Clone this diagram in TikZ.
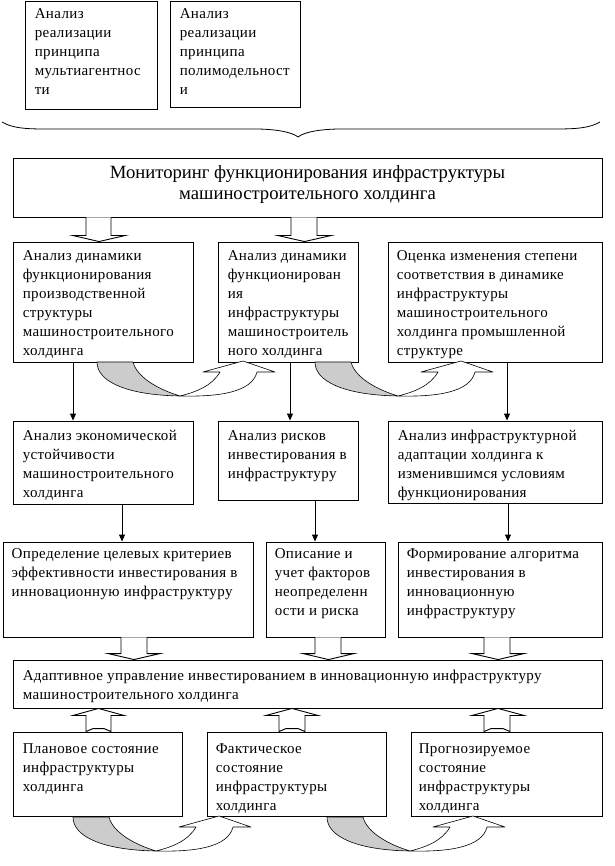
\documentclass[tikz,border=0pt]{standalone}
\usepackage{fontspec}
\setmainfont{Liberation Serif}
\newfontfamily\bodyfont{Liberation Serif}[LetterSpace=2.5]
\usetikzlibrary{arrows.meta,fit,calc}
\newcommand\fst{\rule{0pt}{13pt}}
% block arrow pointing down: shaft left, shaft right, wing left, wing right, from node, to node
\newcommand\blkdown[6]{%
  \draw[blk] let \p1=(#5.south), \p2=(#6.north) in
    (#1pt,\y1) -- (#1pt,\y2+6pt) -- (#3pt,\y2+6pt) -- ({(#3+#4)/2*1pt},\y2)
    -- (#4pt,\y2+6pt) -- (#2pt,\y2+6pt) -- (#2pt,\y1);}
% block arrow pointing up: shaft left, shaft right, wing left, wing right, from node (below), to node (above)
\newcommand\blkup[6]{%
  \draw[blk] let \p1=(#5.north), \p2=(#6.south) in
    (#1pt,\y1) -- (#1pt,\y2-7pt) -- (#3pt,\y2-7pt) -- ({(#3+#4)/2*1pt},\y2)
    -- (#4pt,\y2-7pt) -- (#2pt,\y2-7pt) -- (#2pt,\y1)
    -- (#2pt-7pt,\y1+3pt) -- (#1pt+7pt,\y1+3pt) -- cycle;}
% thin arrow: x, from node, to node
\newcommand\conar[3]{%
  \draw[conn] let \p1=(#2.south), \p2=(#3.north) in (#1pt,\y1) -- (#1pt,\y2);}
% curved twisted arrow, shifted
\newcommand\curvedarrow[2]{%
  \begin{scope}[shift={(#1,#2)}]
    \draw[curv,fill=gray!40] (97,362) .. controls (97,381) and (125,395) .. (180,396)
      .. controls (160,390) and (137,378) .. (133,362) -- cycle;
    \draw[curv,fill=white] (180,396) .. controls (220,397) and (252,392) .. (257,372)
      -- (275,372) -- (243,361) -- (203,372) -- (220,372)
      .. controls (212,386) and (196,392) .. (180,396) -- cycle;
  \end{scope}}
\begin{document}
\begin{tikzpicture}[x=1pt,y=-1pt,
  box/.style={draw,line width=0.9pt,inner sep=0pt},
  txt/.style={anchor=north west,inner sep=0pt,align=left,font=\bodyfont\fontsize{15}{19}\selectfont},
  conn/.style={line width=0.9pt,-{Triangle[width=6pt,length=7pt]}},
  blk/.style={draw,line width=0.9pt,fill=white,line join=miter},
  curv/.style={line width=0.6pt,line join=round}]
\useasboundingbox (0,0) rectangle (614,866);
% boxes
\node[box,fit={(25,1)(157,109)}] (A1) {};
\node[box,fit={(170,1)(300,107)}] (A2) {};
\node[box,fit={(13,158)(602,217)}] (Mon) {};
\node[box,fit={(13,242)(193,362)}] (B1) {};
\node[box,fit={(218,242)(358,362)}] (B2) {};
\node[box,fit={(388,242)(602,362)}] (B3) {};
\node[box,fit={(13,421)(193,504)}] (C1) {};
\node[box,fit={(218,421)(358,500)}] (C2) {};
\node[box,fit={(388,421)(602,503)}] (C3) {};
\node[box,fit={(3,542)(253,637)}] (D1) {};
\node[box,fit={(266,542)(385,637)}] (D2) {};
\node[box,fit={(398,542)(602,637)}] (D3) {};
\node[box,fit={(13,660)(602,708)}] (E) {};
\node[box,fit={(13,732)(182,816)}] (F1) {};
\node[box,fit={(207,732)(386,816)}] (F2) {};
\node[box,fit={(411,732)(602,816)}] (F3) {};
% texts
\node[txt] (A1t) at ($(A1.north west)+(10,4.3)$) {\fst Анализ\\реализации\\принципа\\мультиагентнос\\ти};
\node[txt] (A2t) at ($(A2.north west)+(10,4.3)$) {\fst Анализ\\реализации\\принципа\\полимодельност\\и};
\node[inner sep=0pt,align=center,font=\fontsize{18.67}{21}\selectfont] (Mont) at ($(Mon.center)+(0,-3)$) {Мониторинг функционирования инфраструктуры\\машиностроительного холдинга};
\node[txt] (B1t) at ($(B1.north west)+(10,5.3)$) {\fst Анализ динамики\\функционирования\\производственной\\структуры\\машиностроительного\\холдинга};
\node[txt] (B2t) at ($(B2.north west)+(10,5.3)$) {\fst Анализ динамики\\функционирован\\ия\\инфраструктуры\\машиностроитель\\ного холдинга};
\node[txt] (B3t) at ($(B3.north west)+(9,5.3)$) {\fst Оценка изменения степени\\соответствия в динамике\\инфраструктуры\\машиностроительного\\холдинга промышленной\\структуре};
\node[txt] (C1t) at ($(C1.north west)+(10,6.3)$) {\fst Анализ экономической\\устойчивости\\машиностроительного\\холдинга};
\node[txt] (C2t) at ($(C2.north west)+(10,6.3)$) {\fst Анализ рисков\\инвестирования в\\инфраструктуру};
\node[txt] (C3t) at ($(C3.north west)+(10,6.3)$) {\fst Анализ инфраструктурной\\адаптации холдинга к\\изменившимся условиям\\функционирования};
\node[txt] (D1t) at ($(D1.north west)+(9,3.3)$) {\fst Определение целевых критериев\\эффективности инвестирования в\\инновационную инфраструктуру};
\node[txt] (D2t) at ($(D2.north west)+(9,3.3)$) {\fst Описание и\\учет факторов\\неопределенн\\ости и риска};
\node[txt] (D3t) at ($(D3.north west)+(9,3.3)$) {\fst Формирование алгоритма\\инвестирования в\\инновационную\\инфраструктуру};
\node[txt] (Et) at ($(E.north west)+(10,7.3)$) {\fst Адаптивное управление инвестированием в инновационную инфраструктуру\\машиностроительного холдинга};
\node[txt] (F1t) at ($(F1.north west)+(10,8.3)$) {\fst Плановое состояние\\инфраструктуры\\холдинга};
\node[txt] (F2t) at ($(F2.north west)+(9,8.3)$) {\fst Фактическое\\состояние\\инфраструктуры\\холдинга};
\node[txt] (F3t) at ($(F3.north west)+(8,8.3)$) {\fst Прогнозируемое\\состояние\\инфраструктуры\\холдинга};
% brace
\draw[line width=0.8pt] (2,122) .. controls (12,128) and (25,129) .. (45,129) -- (255,129)
  .. controls (275,129) and (292,132) .. (298,137)
  .. controls (304,132) and (321,129) .. (341,129) -- (556,129)
  .. controls (576,129) and (590,128) .. (600,122);
% block arrows
\blkdown{86}{111}{73}{125}{Mon}{B1}
\blkdown{291}{317}{278}{331}{Mon}{B2}
\blkdown{121}{147}{108}{160}{D1}{E}
\blkdown{315}{341}{303}{354}{D2}{E}
\blkdown{484}{510}{472}{524}{D3}{E}
\blkup{86}{111}{73}{124}{F1}{E}
\blkup{279}{305}{266}{318}{F2}{E}
\blkup{484}{510}{472}{524}{F3}{E}
% thin arrows
\conar{73}{B1}{C1}
\conar{290}{B2}{C2}
\conar{507}{B3}{C3}
\conar{122}{C1}{D1}
\conar{315}{C2}{D2}
\conar{508}{C3}{D3}
% curved arrows
\curvedarrow{0}{0}
\curvedarrow{218}{0}
\curvedarrow{-24}{455}
\curvedarrow{230}{455}
\end{tikzpicture}
\end{document}
